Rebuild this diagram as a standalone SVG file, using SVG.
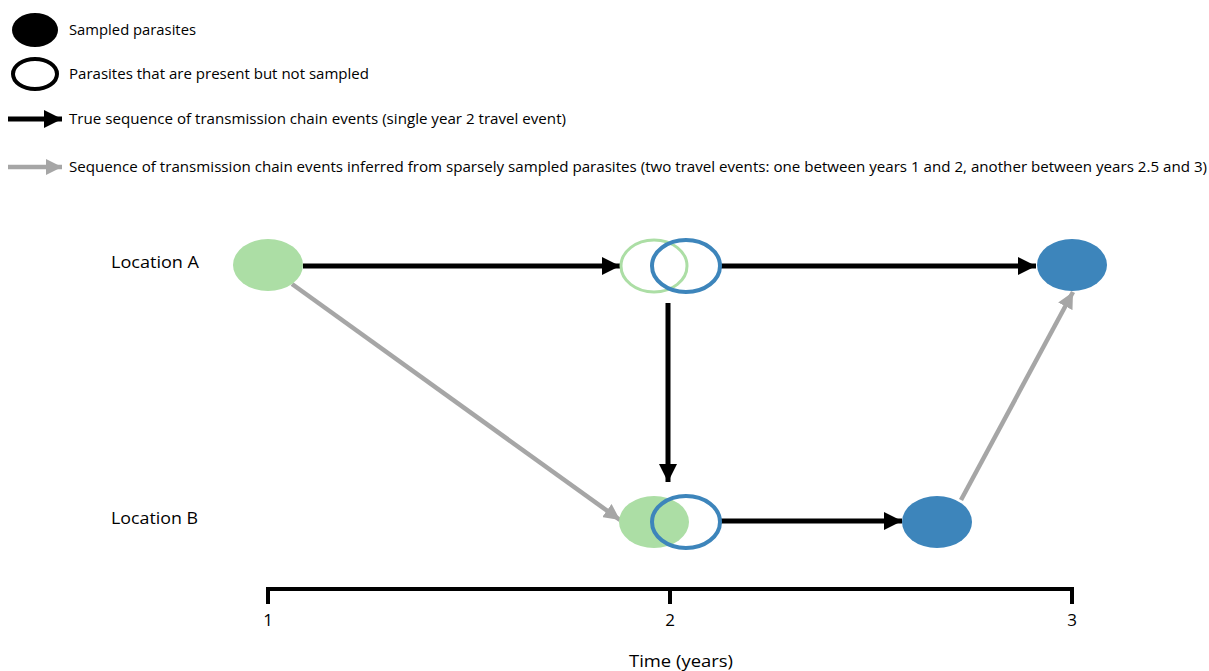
<svg xmlns="http://www.w3.org/2000/svg" width="1209" height="671" viewBox="0 0 1209 671">
<style>
text{font-family:"Open Sans","Liberation Sans",sans-serif;fill:#000}
.leg{font-size:14px}
.lbl{font-size:17px}
.blk{stroke:#000;stroke-width:5;fill:none}
.gry{stroke:#A6A6A6;stroke-width:4.5;fill:none}
.gf{fill:#ACDEA5}
.bf{fill:#3D85BB}
</style>
<defs>
<marker id="ab" viewBox="0 0 10 10" refX="10" refY="5" markerWidth="3.6" markerHeight="3.6" markerUnits="strokeWidth" orient="auto"><path d="M0,0L10,5L0,10z" fill="#000"/></marker>
<marker id="ag" viewBox="0 0 10 10" refX="10" refY="5" markerWidth="3.6" markerHeight="3.6" markerUnits="strokeWidth" orient="auto"><path d="M0,0L10,5L0,10z" fill="#A6A6A6"/></marker>
</defs>
<g id="legend">
<ellipse cx="35" cy="30" rx="23" ry="17" fill="#000"/>
<text class="leg" x="69" y="35" textLength="127" lengthAdjust="spacingAndGlyphs">Sampled parasites</text>
<ellipse cx="35" cy="74" rx="22" ry="15" fill="#fff" stroke="#000" stroke-width="4"/>
<text class="leg" x="69" y="79" textLength="300" lengthAdjust="spacingAndGlyphs">Parasites that are present but not sampled</text>
<line class="blk" x1="8" y1="119" x2="62" y2="119" marker-end="url(#ab)"/>
<text class="leg" x="69" y="124" textLength="497" lengthAdjust="spacingAndGlyphs">True sequence of transmission chain events (single year 2 travel event)</text>
<line class="gry" x1="8" y1="167" x2="62" y2="167" marker-end="url(#ag)"/>
<text class="leg" x="69" y="172" textLength="1138" lengthAdjust="spacingAndGlyphs">Sequence of transmission chain events inferred from sparsely sampled parasites (two travel events: one between years 1 and 2, another between years 2.5 and 3)</text>
</g>
<g id="labels">
<text class="lbl" x="111" y="268" textLength="88" lengthAdjust="spacingAndGlyphs">Location A</text>
<text class="lbl" x="111" y="524" textLength="87" lengthAdjust="spacingAndGlyphs">Location B</text>
</g>
<g id="connectors">
<line class="blk" x1="303" y1="266" x2="620" y2="266" marker-end="url(#ab)"/>
<line class="blk" x1="721" y1="266" x2="1036" y2="266" marker-end="url(#ab)"/>
<line class="blk" x1="668" y1="303" x2="668" y2="482" marker-end="url(#ab)"/>
<line class="blk" x1="721" y1="521" x2="902" y2="521" marker-end="url(#ab)"/>
<line class="gry" x1="292" y1="284" x2="620" y2="520" marker-end="url(#ag)"/>
<line class="gry" x1="961" y1="500" x2="1073" y2="292" marker-end="url(#ag)"/>
</g>
<g id="nodeA1"><ellipse class="gf" cx="268" cy="265" rx="35" ry="26"/></g>
<g id="nodeA2">
<ellipse cx="654" cy="266" rx="33" ry="26" fill="none" stroke="#ACDEA5" stroke-width="3"/>
<ellipse cx="686" cy="266" rx="34" ry="26" fill="none" stroke="#3D85BB" stroke-width="4"/>
</g>
<g id="nodeA3"><ellipse class="bf" cx="1072" cy="265" rx="35" ry="26"/></g>
<g id="nodeB1">
<ellipse class="gf" cx="654" cy="522" rx="35" ry="26"/>
<ellipse cx="686" cy="522" rx="34" ry="26" fill="none" stroke="#3D85BB" stroke-width="4"/>
</g>
<g id="nodeB2"><ellipse class="bf" cx="937" cy="522" rx="35" ry="26"/></g>
<g id="axis">
<path d="M268,604V589H1072V604M670,589V604" fill="none" stroke="#000" stroke-width="4"/>
<text class="lbl" x="268" y="626" text-anchor="middle">1</text>
<text class="lbl" x="670" y="626" text-anchor="middle">2</text>
<text class="lbl" x="1072" y="626" text-anchor="middle">3</text>
<text class="lbl" x="681" y="667" text-anchor="middle" textLength="104" lengthAdjust="spacingAndGlyphs">Time (years)</text>
</g>
</svg>
